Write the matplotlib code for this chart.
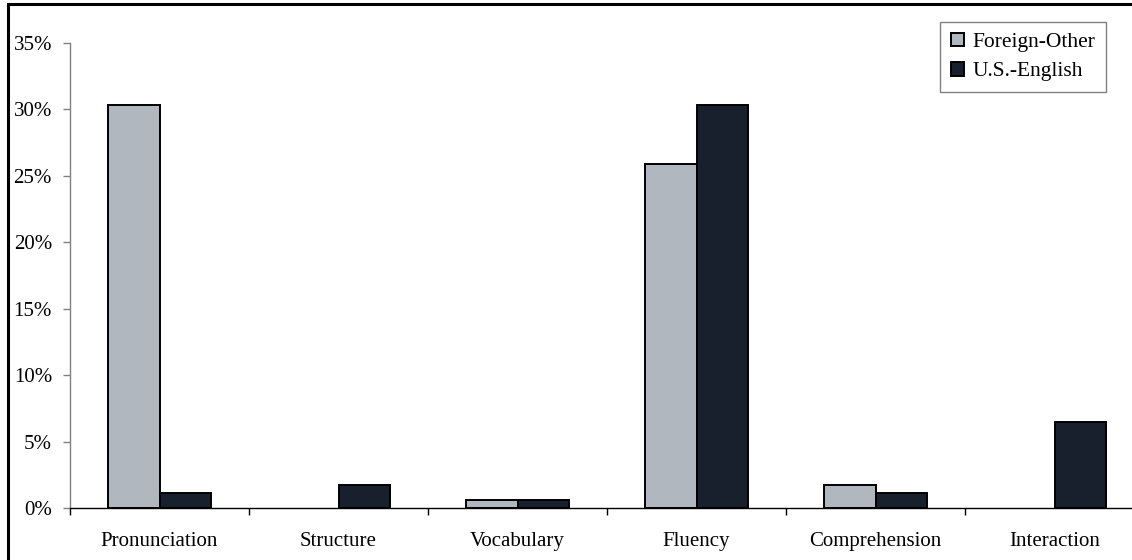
import numpy as np
import matplotlib
matplotlib.use("Agg")
import matplotlib.pyplot as plt
from matplotlib.patches import Rectangle
from matplotlib.ticker import FuncFormatter, MultipleLocator

categories = ["Pronunciation", "Structure", "Vocabulary", "Fluency", "Comprehension", "Interaction"]
foreign_other = [30.3, 0.0, 0.6, 25.9, 1.7, 0.0]
us_english = [1.1, 1.7, 0.6, 30.3, 1.1, 6.5]

FOREIGN_COLOR = "#b0b7bf"
US_COLOR = "#18202e"

plt.rcParams["font.family"] = ["Liberation Serif", "DejaVu Serif"]
plt.rcParams["font.size"] = 15

W, H = 1132, 560
fig = plt.figure(figsize=(W / 100, H / 100), dpi=100)

# plot area runs past the right edge (the source image was cropped)
left, right, top, bottom = 70, 1144, 43, 508
ax = fig.add_axes([left / W, 1 - bottom / H, (right - left) / W, (bottom - top) / H])

x = np.arange(len(categories))
w = 1 / 3.5  # Excel-style gap width 150%
bars_f = ax.bar(x - w / 2, foreign_other, w, color=FOREIGN_COLOR, edgecolor="black",
                linewidth=1.4, label="Foreign-Other")
bars_u = ax.bar(x + w / 2, us_english, w, color=US_COLOR, edgecolor="black",
                linewidth=1.4, label="U.S.-English")

# zero-valued bars show nothing in the original
for b in list(bars_f) + list(bars_u):
    if b.get_height() == 0:
        b.set_visible(False)

ax.set_xlim(-0.5, len(categories) - 0.5)
ax.set_ylim(0, 35)
ax.yaxis.set_major_locator(MultipleLocator(5))
ax.yaxis.set_major_formatter(FuncFormatter(lambda v, _: f"{v:.0f}%"))

ax.set_xticks(x)
ax.set_xticklabels(categories)
ax.set_xticks(np.arange(len(categories) + 1) - 0.5, minor=True)
ax.tick_params(axis="x", which="major", length=0, pad=17)
ax.tick_params(axis="x", which="minor", length=5, width=1, color="black", direction="out")
ax.tick_params(axis="y", length=5, width=1, color="#808080", pad=8)

for s in ["top", "right"]:
    ax.spines[s].set_visible(False)
ax.spines["left"].set_color("#808080")
ax.spines["left"].set_linewidth(1)
ax.spines["bottom"].set_color("black")
ax.spines["bottom"].set_linewidth(1)

leg = ax.legend(loc="upper left", bbox_to_anchor=(940 / W, 1 - 22 / H),
                bbox_transform=fig.transFigure, fancybox=False, framealpha=1,
                edgecolor="#808080", handlelength=0.6, handleheight=0.6,
                handletextpad=0.4, labelspacing=0.45, borderpad=0.5,
                borderaxespad=0, fontsize=15.5)
leg.get_frame().set_linewidth(1)

# outer chart frame (only left and top edges visible in the crop)
fig.patches.append(Rectangle((8 / W, -0.05), 1.1, 1 - 4 / H + 0.05,
                             transform=fig.transFigure, fill=False,
                             edgecolor="black", linewidth=2.2, clip_on=False))

fig.savefig("out.png", dpi=100)
